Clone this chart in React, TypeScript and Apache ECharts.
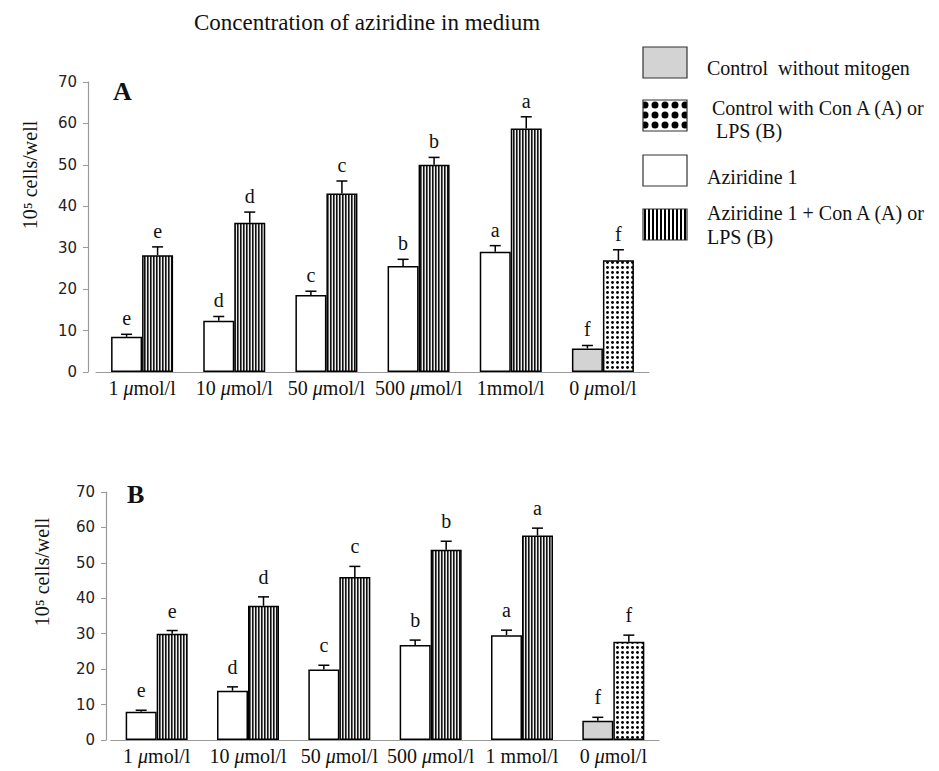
import React, { useEffect, useRef } from "react";
import * as echarts from "echarts";

// ---------- data ----------
const CATS_A = ["1 μmol/l", "10 μmol/l", "50 μmol/l", "500 μmol/l", "1mmol/l", "0 μmol/l"];
const CATS_B = ["1 μmol/l", "10 μmol/l", "50 μmol/l", "500 μmol/l", "1 mmol/l", "0 μmol/l"];

// Panel A (Con A)
const AZ_A = [8.5, 12.4, 18.6, 25.6, 29.0];
const AZ_A_ERR = [0.6, 1.0, 0.9, 1.6, 1.5];
const AZMIT_A = [28.2, 36.0, 43.1, 50.0, 58.8];
const AZMIT_A_ERR = [2.0, 2.6, 3.0, 1.8, 2.8];
const CTRL_A = 5.7;
const CTRL_A_ERR = 0.7;
const CTRLMIT_A = 27.0;
const CTRLMIT_A_ERR = 2.5;

// Panel B (LPS)
const AZ_B = [8.0, 13.9, 19.9, 26.8, 29.6];
const AZ_B_ERR = [0.4, 1.1, 1.2, 1.4, 1.4];
const AZMIT_B = [30.0, 37.9, 46.0, 53.7, 57.7];
const AZMIT_B_ERR = [0.9, 2.5, 3.0, 2.4, 2.1];
const CTRL_B = 5.4;
const CTRL_B_ERR = 1.0;
const CTRLMIT_B = 27.7;
const CTRLMIT_B_ERR = 1.9;

// significance letters (same for both bars within a group)
const LETTERS = ["e", "d", "c", "b", "a", "f"];

const Y_TICKS = [0, 10, 20, 30, 40, 50, 60, 70];

const LEGEND_ITEMS = [
  ["Control  without mitogen"],
  ["Control with Con A (A) or", "LPS (B)"],
  ["Aziridine 1"],
  ["Aziridine 1 + Con A (A) or", "LPS (B)"],
];

// ---------- styling ----------
const SERIF = "'Liberation Serif', 'Times New Roman', serif";
const SANS = "'DejaVu Sans', Arial, sans-serif";
const BAR_W = 31;
const GRAY = "#d3d3d3";

function makeCanvas(w: number, h: number, draw: (c: CanvasRenderingContext2D) => void) {
  const c = document.createElement("canvas");
  c.width = w;
  c.height = h;
  const ctx = c.getContext("2d")!;
  draw(ctx);
  return c;
}

function stripePattern(small: boolean) {
  const canvas = small
    ? makeCanvas(3, 4, (ctx) => {
        ctx.fillStyle = "#eeeeee";
        ctx.fillRect(0, 0, 3, 4);
        ctx.fillStyle = "#111";
        ctx.fillRect(0, 0, 1, 4);
        ctx.fillStyle = "#6a6a6a";
        ctx.fillRect(1, 0, 1, 4);
      })
    : makeCanvas(4, 4, (ctx) => {
        ctx.fillStyle = "#fff";
        ctx.fillRect(0, 0, 4, 4);
        ctx.fillStyle = "#000";
        ctx.fillRect(0, 0, 2, 4);
      });
  return { image: canvas, repeat: "repeat" } as any;
}

function dotPattern(small: boolean) {
  const s = small ? 5 : 10;
  const r = small ? 1.45 : 3.5;
  const canvas = makeCanvas(s, s, (ctx) => {
    ctx.fillStyle = "#fff";
    ctx.fillRect(0, 0, s, s);
    ctx.fillStyle = "#000";
    ctx.beginPath();
    ctx.arc(s / 2, s / 2, r, 0, Math.PI * 2);
    ctx.fill();
  });
  return { image: canvas, repeat: "repeat" } as any;
}

function fmtCat(v: string) {
  return v.replace("μ", "{i|μ}");
}

export default function App() {
  const ref = useRef<HTMLDivElement>(null);

  useEffect(() => {
    document.body.style.margin = "0";
    const chart = echarts.init(ref.current!, null, { renderer: "svg" });

    const stripeS = stripePattern(true);
    const dotS = dotPattern(true);
    const stripeL = stripePattern(false);
    const dotL = dotPattern(false);

    const barStyle = { borderColor: "#000", borderWidth: 1.5 };

    const makeBars = (
      az: number[],
      ctrl: number,
      azmit: number[],
      ctrlmit: number,
      idx: number
    ) => [
      {
        type: "bar",
        xAxisIndex: idx,
        yAxisIndex: idx,
        barWidth: BAR_W,
        barGap: "0%",
        itemStyle: { ...barStyle, color: "#fff" },
        data: [...az, { value: ctrl, itemStyle: { ...barStyle, color: GRAY } }],
        z: 2,
      },
      {
        type: "bar",
        xAxisIndex: idx,
        yAxisIndex: idx,
        barWidth: BAR_W,
        barGap: "0%",
        itemStyle: { ...barStyle, color: stripeS },
        data: [...azmit, { value: ctrlmit, itemStyle: { ...barStyle, color: dotS } }],
        z: 2,
      },
    ];

    const makeErr = (
      az: number[],
      azErr: number[],
      ctrl: number,
      ctrlErr: number,
      azmit: number[],
      azmitErr: number[],
      ctrlmit: number,
      ctrlmitErr: number,
      idx: number,
      lift: number
    ) => {
      const means = [...az, ctrl];
      const errs = [...azErr, ctrlErr];
      const means2 = [...azmit, ctrlmit];
      const errs2 = [...azmitErr, ctrlmitErr];
      const data: number[][] = [];
      means.forEach((m, i) => {
        data.push([i, m, errs[i], -1]);
        data.push([i, means2[i], errs2[i], 1]);
      });
      return {
        type: "custom",
        xAxisIndex: idx,
        yAxisIndex: idx,
        z: 5,
        data,
        encode: { x: 0, y: 1 },
        renderItem: (params: any, api: any) => {
          const cat = api.value(0);
          const mean = api.value(1);
          const err = api.value(2);
          const side = api.value(3);
          const base = api.coord([cat, mean]);
          const top = api.coord([cat, mean + err]);
          const x = base[0] + (side * BAR_W) / 2;
          const letter = LETTERS[Math.floor(params.dataIndex / 2)];
          return {
            type: "group",
            children: [
              {
                type: "line",
                shape: { x1: x, y1: base[1], x2: x, y2: top[1] },
                style: { stroke: "#000", lineWidth: 1.5 },
              },
              {
                type: "line",
                shape: { x1: x - 5.5, y1: top[1], x2: x + 5.5, y2: top[1] },
                style: { stroke: "#000", lineWidth: 1.5 },
              },
              {
                type: "text",
                style: {
                  text: letter,
                  x: x,
                  y: top[1] - lift,
                  align: "center",
                  verticalAlign: "middle",
                  fontFamily: SERIF,
                  fontSize: 20,
                  fill: "#111",
                },
              },
            ],
          };
        },
      };
    };

    const xAxis = (cats: string[], idx: number) => ({
      gridIndex: idx,
      type: "category",
      data: cats,
      axisLine: { show: true, lineStyle: { color: "#999", width: 1.2 } },
      axisTick: { show: false },
      axisLabel: {
        interval: 0,
        margin: 6,
        fontFamily: SERIF,
        fontSize: 20,
        color: "#111",
        formatter: fmtCat,
        rich: { i: { fontFamily: SERIF, fontSize: 20, fontStyle: "italic", color: "#111" } },
      },
    });

    const yAxis = (idx: number, offset: number) => ({
      gridIndex: idx,
      type: "value",
      min: Y_TICKS[0],
      max: Y_TICKS[Y_TICKS.length - 1],
      interval: Y_TICKS[1] - Y_TICKS[0],
      offset,
      axisLine: { show: true, lineStyle: { color: "#999", width: 1.2 } },
      axisTick: { show: true, length: 5, lineStyle: { color: "#999" } },
      splitLine: { show: false },
      axisLabel: { fontFamily: SANS, fontSize: 15, color: "#222", margin: 11 },
    });

    // legend graphics
    const legendBoxY = [47, 100, 155, 209];
    const legendFills = [GRAY, dotL, "#fff", stripeL];
    const legendTextY = [[68], [108, 131], [177], [213, 237]];
    const legendTextX = [[707], [712, 716], [707], [707, 707]];
    const legendGraphics: any[] = [];
    LEGEND_ITEMS.forEach((lines, i) => {
      legendGraphics.push({
        type: "rect",
        shape: { x: 643, y: legendBoxY[i], width: 44, height: 31 },
        style: { fill: legendFills[i], stroke: "#333", lineWidth: 1.2 },
      });
      lines.forEach((t, j) => {
        legendGraphics.push({
          type: "text",
          style: {
            text: t,
            x: legendTextX[i][j],
            y: legendTextY[i][j],
            verticalAlign: "middle",
            fontFamily: SERIF,
            fontSize: 20,
            fill: "#111",
          },
        });
      });
    });

    const option: any = {
      animation: false,
      backgroundColor: "#fff",
      grid: [
        { left: 96, top: 82, width: 553, height: 290 },
        { left: 111, top: 492, width: 548, height: 248 },
      ],
      xAxis: [xAxis(CATS_A, 0), xAxis(CATS_B, 1)],
      yAxis: [yAxis(0, 8), yAxis(1, 5)],
      series: [
        ...makeBars(AZ_A, CTRL_A, AZMIT_A, CTRLMIT_A, 0),
        ...makeBars(AZ_B, CTRL_B, AZMIT_B, CTRLMIT_B, 1),
        makeErr(AZ_A, AZ_A_ERR, CTRL_A, CTRL_A_ERR, AZMIT_A, AZMIT_A_ERR, CTRLMIT_A, CTRLMIT_A_ERR, 0, 16),
        makeErr(AZ_B, AZ_B_ERR, CTRL_B, CTRL_B_ERR, AZMIT_B, AZMIT_B_ERR, CTRLMIT_B, CTRLMIT_B_ERR, 1, 20),
      ],
      graphic: [
        {
          type: "text",
          style: {
            text: "Concentration of aziridine in medium",
            x: 367,
            y: 22,
            align: "center",
            verticalAlign: "middle",
            fontFamily: SERIF,
            fontSize: 23,
            fill: "#111",
          },
        },
        {
          type: "text",
          style: { text: "A", x: 113, y: 91, verticalAlign: "middle", fontFamily: SERIF, fontSize: 26, fontWeight: "bold", fill: "#111" },
        },
        {
          type: "text",
          style: { text: "B", x: 127, y: 494, verticalAlign: "middle", fontFamily: SERIF, fontSize: 26, fontWeight: "bold", fill: "#111" },
        },
        {
          type: "text",
          x: 30,
          y: 175,
          rotation: Math.PI / 2,
          style: { text: "10⁵ cells/well", x: 0, y: 0, align: "center", verticalAlign: "middle", fontFamily: SERIF, fontSize: 20, fill: "#111" },
        },
        {
          type: "text",
          x: 42,
          y: 572,
          rotation: Math.PI / 2,
          style: { text: "10⁵ cells/well", x: 0, y: 0, align: "center", verticalAlign: "middle", fontFamily: SERIF, fontSize: 20, fill: "#111" },
        },
        ...legendGraphics,
      ],
    };

    chart.setOption(option);
    return () => chart.dispose();
  }, []);

  return <div ref={ref} style={{ width: 939, height: 771, position: "absolute", left: 0, top: 0 }} />;
}
